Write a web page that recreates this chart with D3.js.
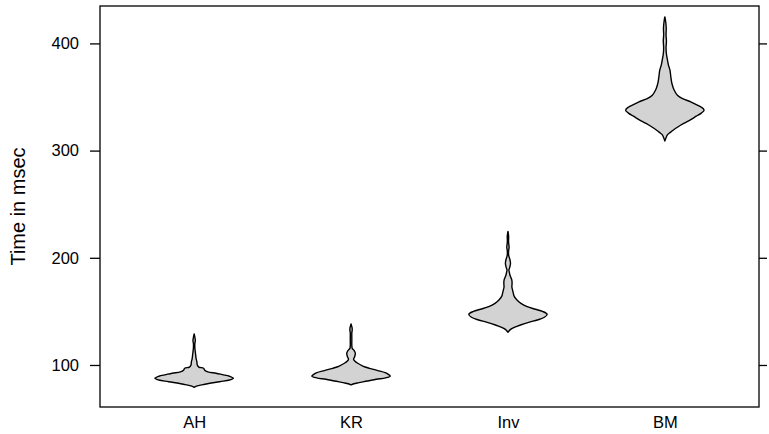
<!DOCTYPE html>
<html>
<head>
<meta charset="utf-8">
<script src="https://cdn.jsdelivr.net/npm/d3@7"></script>
<style>
  html, body { margin: 0; padding: 0; background: #ffffff; }
  svg { display: block; font-family: "Liberation Sans", Arial, Helvetica, sans-serif; }
</style>
</head>
<body>
<svg id="chart" width="769" height="434"></svg>
<script>
// ---- data ----
const categories = ["AH", "KR", "Inv", "BM"];
const yTicks = [100, 200, 300, 400];
const yLimits = [60.8, 434.9];
const yTitle = "Time in msec";

// violin outlines: time values (msec) and relative density (0..1)
const ahTime    = [79.2, 80.5, 82, 84.4, 86, 87.6, 89.5, 91, 92.3, 93.5, 95, 97, 98, 100, 103, 106, 109, 112, 116, 120, 122.5, 124.5, 126.5, 128, 128.9];
const ahDensity = [0, 0.08, 0.27, 0.65, 0.9, 1.0, 0.9, 0.72, 0.56, 0.35, 0.27, 0.24, 0.12, 0.08, 0.07, 0.05, 0.04, 0.03, 0.018, 0.018, 0.03, 0.025, 0.015, 0.006, 0];

const krTime    = [81.4, 82.5, 83.5, 85, 86.7, 88, 89.7, 91.3, 92.8, 94.8, 96.9, 99, 101.6, 103.5, 105.3, 107.5, 110.9, 113.5, 115.5, 118, 124, 130, 132.6, 135, 137, 138.2];
const krDensity = [0, 0.07, 0.2, 0.42, 0.64, 0.88, 1.0, 0.95, 0.87, 0.68, 0.47, 0.3, 0.17, 0.1, 0.065, 0.09, 0.11, 0.08, 0.03, 0.02, 0.02, 0.02, 0.03, 0.025, 0.01, 0];

const invTime    = [130.5, 133, 135, 137.3, 140, 142, 144.5, 147.3, 150, 152, 154.4, 157.5, 160.6, 164, 168, 171, 173, 176, 179, 182, 184, 186.5, 188.6, 191, 195, 199, 202, 206, 210, 213, 216, 220, 223, 224.6];
const invDensity = [0, 0.06, 0.16, 0.32, 0.55, 0.75, 0.93, 1.0, 0.88, 0.7, 0.49, 0.33, 0.23, 0.16, 0.13, 0.11, 0.1, 0.105, 0.1, 0.07, 0.05, 0.035, 0.025, 0.045, 0.065, 0.045, 0.02, 0.015, 0.03, 0.02, 0.015, 0.018, 0.008, 0];

const bmTime    = [309, 311, 314.4, 317, 319, 322, 325.3, 328.5, 332.1, 335, 337.7, 340.5, 343, 345.5, 348.5, 351.7, 357, 362.6, 368, 375, 380, 385.9, 390, 396, 402, 408, 414, 419, 422.5, 424.7];
const bmDensity = [0, 0.02, 0.06, 0.14, 0.21, 0.33, 0.48, 0.64, 0.8, 0.93, 1.0, 0.93, 0.8, 0.66, 0.45, 0.32, 0.23, 0.18, 0.155, 0.13, 0.09, 0.06, 0.04, 0.03, 0.04, 0.03, 0.035, 0.025, 0.012, 0];

const violins = [
  { cat: "AH",  time: ahTime,  density: ahDensity },
  { cat: "KR",  time: krTime,  density: krDensity },
  { cat: "Inv", time: invTime, density: invDensity },
  { cat: "BM",  time: bmTime,  density: bmDensity }
];

// ---- layout ----
const svg = d3.select("#chart");
const W = 769, H = 434;
const panel = { left: 100, right: 759, top: 6, bottom: 407 };

svg.append("rect").attr("width", W).attr("height", H).attr("fill", "#ffffff");

const x = d3.scalePoint().domain(categories).range([panel.left, panel.right]).padding(0.6);
const y = d3.scaleLinear().domain(yLimits).range([panel.bottom, panel.top]);
const halfWidth = x.step() * 0.25;

// violins
const g = svg.append("g");
violins.forEach(vl => {
  const cx = x(vl.cat);
  const pts = vl.time.map((t, i) => ({ t: t, d: vl.density[i] }));
  const area = d3.area()
    .curve(d3.curveCatmullRom.alpha(0.5))
    .y(p => y(p.t))
    .x0(p => cx - p.d * halfWidth)
    .x1(p => cx + p.d * halfWidth);
  g.append("path")
    .attr("d", area(pts))
    .attr("fill", "#d3d3d3")
    .attr("stroke", "#000000")
    .attr("stroke-width", 1.4)
    .attr("stroke-linejoin", "round");
});

// panel frame
svg.append("rect")
  .attr("x", panel.left).attr("y", panel.top)
  .attr("width", panel.right - panel.left).attr("height", panel.bottom - panel.top)
  .attr("fill", "none").attr("stroke", "#000000").attr("stroke-width", 1.3);

// left axis
const yAxisL = d3.axisLeft(y).tickValues(yTicks).tickSize(10).tickPadding(11).tickFormat(d3.format("d"));
const gl = svg.append("g").attr("transform", `translate(${panel.left},0)`).call(yAxisL);
gl.select(".domain").remove();
gl.selectAll("line").attr("stroke", "#000").attr("stroke-width", 1.3);
gl.selectAll("text").attr("font-size", 16.5).attr("fill", "#000")
  .attr("font-family", "'Liberation Sans', Arial, sans-serif");

// right axis ticks (no labels)
const yAxisR = d3.axisRight(y).tickValues(yTicks).tickSize(8).tickFormat("");
const gr = svg.append("g").attr("transform", `translate(${panel.right},0)`).call(yAxisR);
gr.select(".domain").remove();
gr.selectAll("line").attr("stroke", "#000").attr("stroke-width", 1.3);

// bottom labels
const xAxis = d3.axisBottom(x).tickSize(0).tickPadding(9);
const gb = svg.append("g").attr("transform", `translate(0,${panel.bottom})`).call(xAxis);
gb.select(".domain").remove();
gb.selectAll("text").attr("font-size", 16.5).attr("fill", "#000")
  .attr("font-family", "'Liberation Sans', Arial, sans-serif");

// y title
svg.append("text")
  .attr("transform", `translate(25,${(panel.top + panel.bottom) / 2}) rotate(-90)`)
  .attr("text-anchor", "middle")
  .attr("font-size", 20)
  .attr("fill", "#000")
  .text(yTitle);
</script>
</body>
</html>
